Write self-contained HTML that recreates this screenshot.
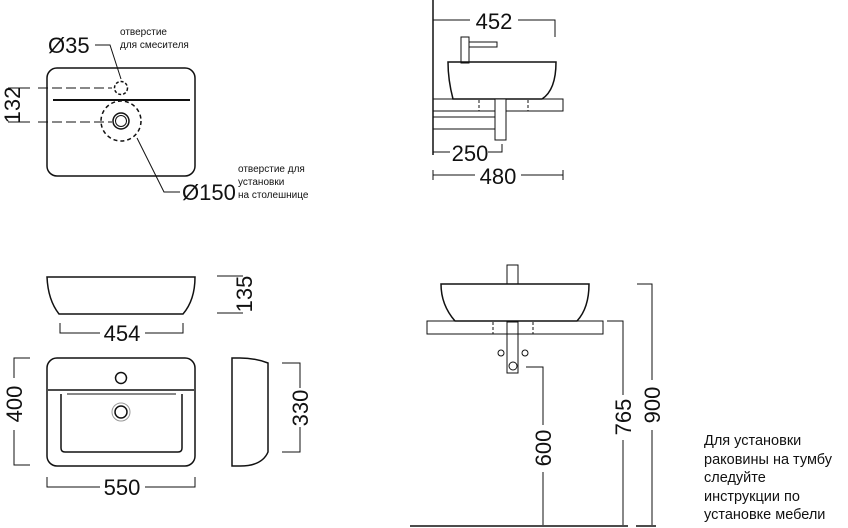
<!DOCTYPE html>
<html><head><meta charset="utf-8"><style>
html,body{margin:0;padding:0;background:#fff}
svg{display:block}
text{font-family:"Liberation Sans",sans-serif;fill:#111}
</style></head><body>
<svg width="848" height="528" viewBox="0 0 848 528" xmlns="http://www.w3.org/2000/svg">
<g fill="none" stroke="#111" stroke-width="1.5">
<!-- top-left plan -->
<rect x="47" y="68" width="148" height="108" rx="10"/>
<line x1="53" y1="100" x2="190" y2="100" stroke-width="2"/>
<circle cx="121" cy="88" r="6.5" stroke-dasharray="3,2"/>
<circle cx="121" cy="121" r="20" stroke-dasharray="4,3"/>
<circle cx="121" cy="121" r="8"/>
<circle cx="121" cy="121" r="5.5" stroke-width="1"/>
<line x1="8" y1="88" x2="30" y2="88" stroke-width="1"/>
<line x1="38" y1="88" x2="112" y2="88" stroke-width="1" stroke-dasharray="10,4"/>
<line x1="8" y1="122" x2="30" y2="122" stroke-width="1"/>
<line x1="38" y1="122" x2="112" y2="122" stroke-width="1" stroke-dasharray="10,4"/>
<polyline points="95,45 110,45 121,79" stroke-width="1"/>
<polyline points="137,138 164,192 180,192" stroke-width="1"/>
<!-- top-right -->
<line x1="433" y1="0" x2="433" y2="155"/>
<line x1="433" y1="20" x2="470" y2="20" stroke-width="1"/>
<polyline points="518,20 555,20 555,37" stroke-width="1"/>
<rect x="461" y="37" width="8" height="26" stroke-width="1"/>
<rect x="469" y="42" width="28" height="5" stroke-width="1"/>
<path d="M448,62 L556,62 Q556,90 542,99 L453,99 Q448,80 448,62 Z"/>
<rect x="433" y="99" width="130" height="12" stroke-width="1"/>
<line x1="479" y1="100" x2="479" y2="111" stroke-width="1" stroke-dasharray="3,2"/>
<line x1="528" y1="100" x2="528" y2="111" stroke-width="1" stroke-dasharray="3,2"/>
<line x1="479" y1="111" x2="528" y2="111" stroke-width="1" stroke-dasharray="3,2"/>
<rect x="495" y="99" width="11" height="41" stroke-width="1" fill="#fff"/>
<line x1="433" y1="117" x2="495" y2="117" stroke-width="1"/>
<line x1="433" y1="129" x2="495" y2="129" stroke-width="1"/>
<line x1="433" y1="152" x2="450" y2="152" stroke-width="1"/>
<polyline points="488,152 502,152 502,144" stroke-width="1"/>
<line x1="433" y1="175" x2="475" y2="175" stroke-width="1"/>
<line x1="521" y1="175" x2="563" y2="175" stroke-width="1"/>
<line x1="433" y1="170" x2="433" y2="180" stroke-width="1"/>
<line x1="563" y1="170" x2="563" y2="180" stroke-width="1"/>
<!-- bottom-left elevation -->
<path d="M47,277 L195,277 Q195,300 183,314 L59,314 Q48,300 47,277 Z"/>
<line x1="217" y1="276" x2="243" y2="276" stroke-width="1"/>
<line x1="217" y1="313" x2="243" y2="313" stroke-width="1"/>
<polyline points="60,323 60,333 100,333" stroke-width="1"/>
<polyline points="145,333 183,333 183,323" stroke-width="1"/>
<!-- plan -->
<rect x="47" y="358" width="148" height="108" rx="10"/>
<line x1="48" y1="390" x2="194" y2="390"/>
<path d="M61,394 L61,448 Q61,452 65,452 L178,452 Q182,452 182,448 L182,394" />
<line x1="67" y1="394" x2="176" y2="394" stroke-width="1"/>
<circle cx="121" cy="378" r="5.5"/>
<circle cx="121" cy="412" r="6"/>
<circle cx="121" cy="412" r="9" stroke="#999" stroke-width="1"/>
<polyline points="30,358 14,358 14,378" stroke-width="1"/>
<polyline points="14,430 14,465 30,465" stroke-width="1"/>
<polyline points="47,477 47,487 100,487" stroke-width="1"/>
<polyline points="145,487 195,487 195,477" stroke-width="1"/>
<!-- side profile -->
<path d="M232,358 L232,466 L240,466 Q262,466 268,452 L268,363 Q255,358 240,358 Z"/>
<polyline points="282,363 300,363 300,388" stroke-width="1"/>
<polyline points="300,427 300,452 282,452" stroke-width="1"/>
<!-- bottom-right -->
<rect x="507" y="265" width="11" height="19" stroke-width="1"/>
<path d="M441,284 L589,284 Q589,308 577,321 L455,321 Q441,305 441,284 Z"/>
<rect x="427" y="321" width="176" height="13" stroke-width="1"/>
<line x1="493" y1="322" x2="493" y2="334" stroke-width="1" stroke-dasharray="3,2"/>
<line x1="533" y1="322" x2="533" y2="334" stroke-width="1" stroke-dasharray="3,2"/>
<line x1="493" y1="334" x2="533" y2="334" stroke-width="1" stroke-dasharray="3,2"/>
<rect x="507" y="322" width="11" height="51" stroke-width="1" fill="none"/>
<circle cx="501" cy="353" r="3" stroke-width="1"/>
<circle cx="525" cy="353" r="3" stroke-width="1"/>
<circle cx="513" cy="366" r="4" stroke-width="1"/>
<polyline points="526,367 543,367 543,425" stroke-width="1"/>
<line x1="543" y1="472" x2="543" y2="525" stroke-width="1"/>
<polyline points="607,321 623,321 623,395" stroke-width="1"/>
<line x1="623" y1="440" x2="623" y2="525" stroke-width="1"/>
<polyline points="637,284 652,284 652,380" stroke-width="1"/>
<line x1="652" y1="430" x2="652" y2="525" stroke-width="1"/>
<line x1="410" y1="526" x2="628" y2="526"/>
<line x1="636" y1="526" x2="656" y2="526"/>
</g>
<g font-size="22">
<text x="48" y="53">Ø35</text>
<text x="182" y="200">Ø150</text>
<text transform="translate(20,105) rotate(-90)" text-anchor="middle">132</text>
<text x="494" y="29" text-anchor="middle">452</text>
<text x="470" y="161" text-anchor="middle">250</text>
<text x="498" y="184" text-anchor="middle">480</text>
<text transform="translate(252,294) rotate(-90)" text-anchor="middle">135</text>
<text x="122" y="341" text-anchor="middle">454</text>
<text transform="translate(22,404) rotate(-90)" text-anchor="middle">400</text>
<text x="122" y="495" text-anchor="middle">550</text>
<text transform="translate(308,408) rotate(-90)" text-anchor="middle">330</text>
<text transform="translate(551,448) rotate(-90)" text-anchor="middle">600</text>
<text transform="translate(631,417) rotate(-90)" text-anchor="middle">765</text>
<text transform="translate(660,405) rotate(-90)" text-anchor="middle">900</text>
</g>
<g font-size="10">
<text x="120" y="35">отверстие</text>
<text x="120" y="48">для смесителя</text>
<text x="238" y="172">отверстие для</text>
<text x="238" y="185">установки</text>
<text x="238" y="198">на столешнице</text>
</g>
<g font-size="14.5">
<text x="704" y="445">Для установки</text>
<text x="704" y="464">раковины на тумбу</text>
<text x="704" y="482">следуйте</text>
<text x="704" y="501">инструкции по</text>
<text x="704" y="519">установке мебели</text>
</g>
</svg>
</body></html>
